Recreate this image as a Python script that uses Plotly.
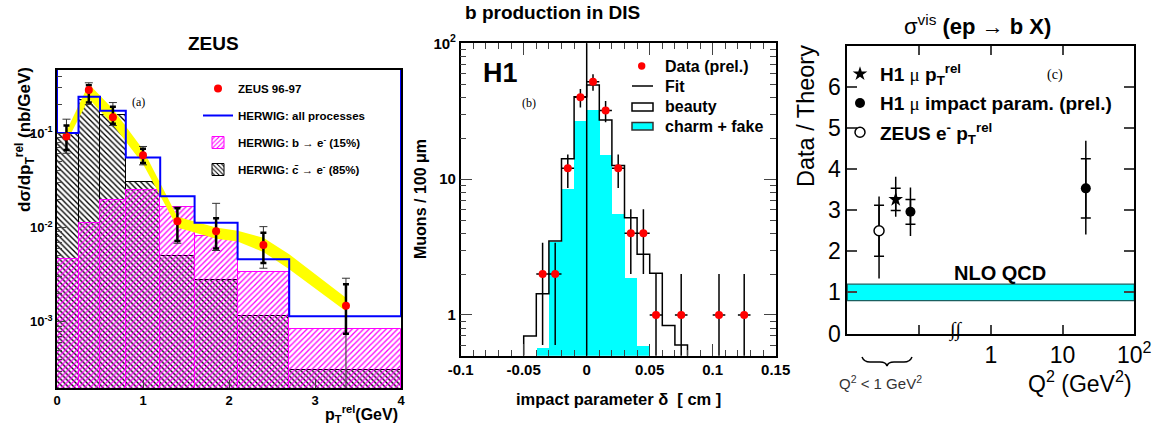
import plotly.graph_objects as go

W, H = 1172, 426
def px(x): return x / W
def py(y): return 1 - y / H

SANS = "Liberation Sans, Arial, sans-serif"
SERIF = "Liberation Serif, Times New Roman, serif"

# ---------------- panel (a): ZEUS ----------------
a_edges = [0, 0.25, 0.5, 0.8, 1.2, 1.6, 2.1, 2.7, 4.0]
a_all = [0.100, 0.242, 0.172, 0.055, 0.0214, 0.0112, 0.0046, 0.00115]
a_b = [0.0046, 0.0112, 0.0196, 0.025, 0.0163, 0.0081, 0.0034, 0.00085]
a_c = [0.097, 0.224, 0.155, 0.030, 0.0050, 0.0028, 0.00115, 0.00031]
a_x = [0.11, 0.37, 0.65, 1.0, 1.40, 1.85, 2.40, 3.36]
a_y = [0.092, 0.285, 0.147, 0.058, 0.0116, 0.0091, 0.0065, 0.00148]
a_in_hi = [0.12, 0.32, 0.19, 0.068, 0.0160, 0.0125, 0.0088, 0.0025]
a_in_lo = [0.066, 0.21, 0.125, 0.048, 0.0072, 0.0060, 0.0042, 0.00075]
a_out_hi = [0.14, 0.34, 0.21, 0.072, 0.0164, 0.018, 0.0102, 0.0029]
a_out_lo = [0.061, 0.20, 0.12, 0.046, 0.0068, 0.0057, 0.0037, 0.0001]
a_band_x = [0.11, 0.37, 0.65, 1.0, 1.4, 1.85, 2.1, 2.4, 2.7, 3.36]
a_band_hi = [0.105, 0.33, 0.18, 0.067, 0.013, 0.0100, 0.0092, 0.0078, 0.0052, 0.0018]
a_band_lo = [0.080, 0.23, 0.122, 0.047, 0.0100, 0.0076, 0.0071, 0.0055, 0.0036, 0.0013]
a_yrange = [-3.70, -0.333]
a_xticks = [0, 1, 2, 3, 4]
a_yticks = [0.001, 0.01, 0.1]
a_yticktext = ["10<sup>-3</sup>", "10<sup>-2</sup>", "10<sup>-1</sup>"]

# ---------------- panel (b): H1 impact parameter ----------------
m_edges = [-0.05, -0.04, -0.03, -0.02, -0.01, 0.0, 0.01, 0.02, 0.03, 0.04, 0.05, 0.06, 0.07, 0.08]
m_fit = [0.70, 1.43, 3.5, 14.1, 40.4, 49.3, 27.3, 12.6, 5.2, 2.8, 2.03, 0.835, 0.60]
m_charm_x = [-0.035, -0.025, -0.015, -0.005, 0.005, 0.015, 0.025, 0.035, 0.045]
m_charm = [0.57, 3.4, 8.4, 26.7, 32.3, 14.9, 5.5, 1.86, 0.59]
m_x = [-0.035, -0.025, -0.015, -0.005, 0.005, 0.015, 0.025, 0.035, 0.045, 0.055, 0.075, 0.105, 0.125]
m_y = [2, 2, 12, 40, 52, 32, 12, 4, 4, 1, 1, 1, 1]
m_eplus = [1.4, 1.4, 3.2, 6.0, 7.2, 5.6, 3.2, 2.0, 2.0, 1.0, 1.0, 1.0, 1.0]
m_eminus = [1.4, 1.4, 3.4, 6.3, 7.2, 5.8, 3.4, 2.0, 2.0, 0.99, 0.99, 0.99, 0.99]
m_xerr = 0.005
m_yrange = [-0.30, 2.0]
m_xrange = [-0.1, 0.15]

# ---------------- panel (c): Data / Theory ----------------
c_zeus_x = [0.0277]
c_zeus_y = [2.50]
c_zeus_stat = [0.62]
c_zeus_tot_plus = [0.83]
c_zeus_tot_minus = [1.16]
c_star_x = [0.0473]
c_star_y = [3.26]
c_star_stat = [0.27]
c_star_tot_plus = [0.55]
c_star_tot_minus = [0.42]
c_ip_x = [0.0759, 21.1]
c_ip_y = [2.96, 3.53]
c_ip_stat = [0.30, 0.72]
c_ip_tot_plus = [0.59, 1.16]
c_ip_tot_minus = [0.59, 1.12]
c_nlo_lo, c_nlo_hi = 0.80, 1.20
c_yticks = [0, 1, 2, 3, 4, 5, 6, 7]
c_yticktext = ["0", "1", "2", "3", "4", "5", "6", ""]
c_xticks = [0.1, 1, 10, 100]
c_xticktext = ["", "1", "10", "10<sup>2</sup>"]

fig = go.Figure()

# ---- panel (a) traces ----
a_cent = [(a_edges[i] + a_edges[i + 1]) / 2 for i in range(len(a_edges) - 1)]
a_wid = [a_edges[i + 1] - a_edges[i] for i in range(len(a_edges) - 1)]
fig.add_trace(go.Bar(
    x=a_cent, y=a_c, width=a_wid, xaxis="x", yaxis="y",
    marker=dict(color="black", line=dict(color="black", width=1),
                pattern=dict(shape="\\", size=4, solidity=0.33, fillmode="replace")),
    name="HERWIG: c\u0304 \u2192 e<sup>-</sup> (85%)", legend="legend", legendrank=4, legendgroup="a4"))
fig.add_trace(go.Bar(
    x=a_cent, y=a_b, width=a_wid, xaxis="x", yaxis="y",
    marker=dict(color="#ff00ff", line=dict(color="#ff00ff", width=1),
                pattern=dict(shape="/", size=4, solidity=0.33, fillmode="replace")),
    name="HERWIG: b \u2192 e<sup>-</sup> (15%)", legend="legend", legendrank=3, legendgroup="a3"))
fig.add_trace(go.Scatter(
    x=a_band_x + a_band_x[::-1], y=a_band_hi + a_band_lo[::-1], fill="toself",
    fillcolor="#ffff00", line=dict(width=0), mode="lines", xaxis="x", yaxis="y",
    showlegend=False, hoverinfo="skip"))
a_top = 10 ** a_yrange[1]
fig.add_trace(go.Scatter(
    x=[a_edges[0]] + a_edges[:-1] + [a_edges[-1], a_edges[-1]],
    y=[a_top] + a_all + [a_all[-1], a_top],
    mode="lines", line=dict(color="#0000ff", width=2, shape="hv"), xaxis="x", yaxis="y",
    name="HERWIG: all processes", legend="legend", legendrank=2, legendgroup="a2"))
fig.add_trace(go.Scatter(
    x=a_x, y=a_y, mode="markers", marker=dict(size=0.1, color="black"),
    error_y=dict(type="data", symmetric=False,
                 array=[h - v for h, v in zip(a_out_hi, a_y)],
                 arrayminus=[v - l for v, l in zip(a_y, a_out_lo)],
                 color="#333333", thickness=1, width=4),
    xaxis="x", yaxis="y", showlegend=False, hoverinfo="skip"))
fig.add_trace(go.Scatter(
    x=a_x, y=a_y, mode="markers", marker=dict(size=8, color="#ff0000"),
    error_y=dict(type="data", symmetric=False,
                 array=[h - v for h, v in zip(a_in_hi, a_y)],
                 arrayminus=[v - l for v, l in zip(a_y, a_in_lo)],
                 color="black", thickness=2.5, width=3),
    xaxis="x", yaxis="y", name="ZEUS 96-97", legend="legend", legendrank=1, legendgroup="a1"))

# ---- panel (b) traces ----
fig.add_trace(go.Bar(
    x=m_charm_x, y=m_charm, width=0.01, xaxis="x2", yaxis="y2",
    marker=dict(color="#00ffff", line=dict(width=0)), showlegend=False))
m_bot = 10 ** m_yrange[0]
fig.add_trace(go.Scatter(
    x=[m_edges[0]] + m_edges[:-1] + [m_edges[-1], m_edges[-1]],
    y=[m_bot] + m_fit + [m_fit[-1], m_bot],
    mode="lines", line=dict(color="black", width=1.5, shape="hv"),
    xaxis="x2", yaxis="y2", showlegend=False))
fig.add_trace(go.Scatter(
    x=m_x, y=m_y, mode="markers", marker=dict(size=8, color="#ff0000"),
    error_y=dict(type="data", symmetric=False, array=m_eplus, arrayminus=m_eminus,
                 color="black", thickness=1.5, width=0),
    error_x=dict(type="constant", value=m_xerr, color="black", thickness=1.5, width=0),
    xaxis="x2", yaxis="y2", showlegend=False))

# ---- panel (c) traces ----
def tot_trace(xv, yv, p, m):
    return go.Scatter(x=xv, y=yv, mode="markers", marker=dict(size=0.1, color="black"),
                      error_y=dict(type="data", symmetric=False, array=p, arrayminus=m,
                                   color="black", thickness=1.5, width=0),
                      xaxis="x3", yaxis="y3", showlegend=False, hoverinfo="skip")

fig.add_trace(tot_trace(c_zeus_x, c_zeus_y, c_zeus_tot_plus, c_zeus_tot_minus))
fig.add_trace(tot_trace(c_star_x, c_star_y, c_star_tot_plus, c_star_tot_minus))
fig.add_trace(tot_trace(c_ip_x, c_ip_y, c_ip_tot_plus, c_ip_tot_minus))

MU = '<span style="font-family:Liberation Serif;font-weight:normal">\u03bc</span>'
fig.add_trace(go.Scatter(
    x=c_star_x, y=c_star_y, mode="markers",
    marker=dict(symbol="star", size=11, color="black"),
    error_y=dict(type="data", array=c_star_stat, color="black", thickness=1.5, width=5),
    xaxis="x3", yaxis="y3", name="H1 " + MU + " p<sub>T</sub><sup>rel</sup>",
    legend="legend3", legendgroup="c1", legendrank=1))
fig.add_trace(go.Scatter(
    x=c_ip_x, y=c_ip_y, mode="markers",
    marker=dict(symbol="circle", size=10, color="black"),
    error_y=dict(type="data", array=c_ip_stat, color="black", thickness=1.5, width=5),
    xaxis="x3", yaxis="y3", name="H1 " + MU + " impact param. (prel.)",
    legend="legend3", legendgroup="c2", legendrank=2))
fig.add_trace(go.Scatter(
    x=c_zeus_x, y=c_zeus_y, mode="markers",
    marker=dict(symbol="circle", size=10, color="white", line=dict(color="black", width=1.5)),
    error_y=dict(type="data", array=c_zeus_stat, color="black", thickness=1.5, width=5),
    xaxis="x3", yaxis="y3", name="ZEUS e<sup>-</sup> p<sub>T</sub><sup>rel</sup>",
    legend="legend3", legendgroup="c3", legendrank=3))

# ---------------- layout ----------------
A = dict(showgrid=False, zeroline=False, showline=True, linecolor="black", linewidth=1.5,
         automargin=False)

xa = dict(A, domain=[px(57), px(401)], range=[0, 4], tickvals=a_xticks, ticks="inside",
          ticklen=8, mirror=True, anchor="y",
          tickfont=dict(family=SANS, size=13, weight="bold", color="black"))
ya = dict(A, domain=[py(388), py(70)], type="log", range=a_yrange, tickvals=a_yticks,
          ticktext=a_yticktext, ticks="inside", ticklen=9, anchor="x", mirror=True,
          minor=dict(ticks="inside", ticklen=5,
                     tickvals=[k * 10 ** e for e in (-4, -3, -2, -1) for k in range(2, 10)]),
          tickfont=dict(family=SANS, size=13, weight="bold", color="black"))

xb = dict(A, domain=[px(460.7), px(775.7)], range=m_xrange, tickvals=[-0.1, -0.05, 0, 0.05, 0.1, 0.15],
          ticktext=["-0.1", "-0.05", "0", "0.05", "0.1", "0.15"],
          ticks="inside", ticklen=12, mirror="allticks", anchor="y2",
          minor=dict(ticks="inside", ticklen=6, dtick=0.01, tick0=0),
          tickfont=dict(family=SANS, size=15, weight="bold", color="black"))
yb = dict(A, domain=[py(355.7), py(43.3)], type="log", range=m_yrange, tickvals=[1, 10, 100],
          ticktext=["1", "10", "10<sup>2</sup>"], ticks="inside", ticklen=12, mirror="allticks",
          anchor="x2",
          minor=dict(ticks="inside", ticklen=6,
                     tickvals=[k * 10 ** e for e in (-1, 0, 1) for k in range(2, 10)]),
          tickfont=dict(family=SANS, size=15, weight="bold", color="black"))

xc = dict(A, domain=[px(847.3), px(1134.3)], type="log", range=[-2, 2], tickvals=c_xticks,
          ticktext=c_xticktext, ticks="inside", ticklen=9, mirror="allticks", anchor="y3",
          linewidth=2, tickwidth=1.5,
          tickfont=dict(family=SANS, size=23, color="black"))
yc = dict(A, domain=[py(333.5), py(45.7)], range=[0, 7], tickvals=c_yticks, ticktext=c_yticktext,
          ticks="inside", ticklen=10, mirror="allticks", anchor="x3", linewidth=2, tickwidth=1.5,
          tickfont=dict(family=SANS, size=23, color="black"))

ann = []
def A_(x, y, text, size, bold=False, family=SANS, xanchor="center", angle=0, color="black"):
    t = "<b>" + text + "</b>" if bold else text
    ann.append(dict(x=px(x), y=py(y), xref="paper", yref="paper", text=t, showarrow=False,
                    xanchor=xanchor, yanchor="middle", textangle=angle,
                    font=dict(family=family, size=size, color=color)))

# panel (a) texts
A_(213, 43, "ZEUS", 19, True)
A_(138, 102, "(a)", 12, family=SERIF)
A_(24, 140, "d\u03c3/dp<sub>T</sub><sup>rel</sup> (nb/GeV)", 17, True, angle=-90)
A_(400, 414, "p<sub>T</sub><sup>rel</sup>(GeV)", 16, True, xanchor="right")
# panel (b) texts
A_(552, 13, "b production in DIS", 19, True)
A_(500, 73, "H1", 27, True)
A_(529, 103, "(b)", 12, family=SERIF)
A_(420, 199, "Muons / 100 \u03bcm", 16, True, angle=-90)
A_(618, 399, "impact parameter \u03b4  [ cm ]", 16.5, True)
A_(663, 66, "Data (prel.)", 16, True, xanchor="left")
A_(663, 86, "Fit", 16, True, xanchor="left")
A_(663, 107, "beauty", 16, True, xanchor="left")
A_(663, 126, "charm + fake", 16, True, xanchor="left")
# panel (c) texts
A_(977, 25, "\u03c3<sup>vis</sup> <b>(ep \u2192 b X)</b>", 22)
A_(806, 116, "Data / Theory", 23.5, angle=-90)
A_(1055, 75, "(c)", 14, family=SERIF)
A_(1000, 273, "NLO QCD", 20, True)
A_(955, 330, "<i>\u222b\u222b</i>", 20, family=SERIF)
A_(880, 382, "Q<sup>2</sup> < 1 GeV<sup>2</sup>", 15, color="#333333")
A_(1080, 382, "Q<sup>2</sup> (GeV<sup>2</sup>)", 23)

shapes = []
# middle legend swatches
shapes.append(dict(type="circle", xref="paper", yref="paper", x0=px(638), x1=px(645.4),
                   y0=py(69.7), y1=py(62.3), fillcolor="#ff0000", line=dict(width=0)))
shapes.append(dict(type="line", xref="paper", yref="paper", x0=px(632), x1=px(653),
                   y0=py(86), y1=py(86), line=dict(color="black", width=1.5)))
shapes.append(dict(type="rect", xref="paper", yref="paper", x0=px(632), x1=px(653),
                   y0=py(111), y1=py(103), fillcolor="white", line=dict(color="black", width=1.5)))
shapes.append(dict(type="rect", xref="paper", yref="paper", x0=px(632), x1=px(653),
                   y0=py(130), y1=py(122.5), fillcolor="#00ffff", line=dict(color="#333333", width=1.5)))
# vertical line at delta = 0 in panel (b)
shapes.append(dict(type="line", xref="x2", yref="y2 domain", x0=0, x1=0, y0=0, y1=1,
                   line=dict(color="black", width=1.5)))
# NLO QCD band in panel (c)
shapes.append(dict(type="rect", xref="x3 domain", yref="y3", x0=0, x1=1, y0=c_nlo_lo, y1=c_nlo_hi,
                   fillcolor="#00ffff", line=dict(color="#1a6060", width=1.2), layer="below"))
# brace under Q2 < 1
bp = [(862, 357), (864, 362), (870, 362), (880, 362), (886, 362), (887, 366),
      (888, 362), (894, 362), (904, 362), (910, 362), (912, 357)]
P = lambda i: f"{px(bp[i][0])},{py(bp[i][1])}"
path = (f"M {P(0)} Q {P(1)} {P(2)} L {P(3)} Q {P(4)} {P(5)} Q {P(6)} {P(7)} "
        f"L {P(8)} Q {P(9)} {P(10)}")
shapes.append(dict(type="path", xref="paper", yref="paper", path=path,
                   line=dict(color="black", width=1.5)))

fig.update_layout(
    width=W, height=H, autosize=False,
    margin=dict(l=0, r=0, t=0, b=0, pad=0, autoexpand=False),
    paper_bgcolor="white", plot_bgcolor="white", barmode="overlay", bargap=0,
    font=dict(family=SANS, color="black"),
    xaxis=xa, yaxis=ya, xaxis2=xb, yaxis2=yb, xaxis3=xc, yaxis3=yc,
    annotations=ann, shapes=shapes,
    legend=dict(x=px(198), y=py(74), xanchor="left", yanchor="top", bgcolor="rgba(0,0,0,0)",
                font=dict(family=SANS, size=11.5, weight="bold"), tracegroupgap=8,
                traceorder="grouped", itemwidth=30),
    legend3=dict(x=px(840), y=py(55), xanchor="left", yanchor="top", bgcolor="rgba(0,0,0,0)",
                 font=dict(family=SANS, size=19, weight="bold"), tracegroupgap=1.5,
                 traceorder="grouped", itemwidth=30),
    showlegend=True,
)
fig.write_html("out.html", config={"displayModeBar": False},
               post_script="document.body.style.margin='0px';")
